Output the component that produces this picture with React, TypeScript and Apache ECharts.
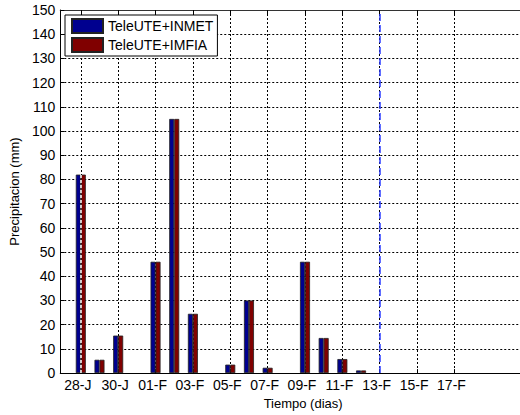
import React, { useEffect, useRef } from "react";
import * as echarts from "echarts";

// Day index 0 = 28 January
const dayIndex = [0, 1, 2, 3, 4, 5, 6, 7, 8, 9, 10, 11, 12, 13, 14, 15];
const inmet = [82, 5.5, 15.5, 0, 46, 105, 24.5, 0, 3.5, 30, 2.2, 0, 46, 14.5, 5.8, 1.1];
const imfia = [82, 5.5, 15.5, 0, 46, 105, 24.5, 0, 3.5, 30, 2.2, 0, 46, 14.5, 5.8, 1.1];
const tickDays = [0, 2, 4, 6, 8, 10, 12, 14, 16, 18, 20];
const tickLabels = ["28-J", "30-J", "01-F", "03-F", "05-F", "07-F", "09-F", "11-F", "13-F", "15-F", "17-F"];
const seriesNames = ["TeleUTE+INMET", "TeleUTE+IMFIA"];
const startMarkerDay = 0;
const cutoffDay = 16;
const xMin = -1.1;
const xMax = 24.9;

const FONT = "'Liberation Sans', Arial, sans-serif";

export default function App() {
  const ref = useRef<HTMLDivElement>(null);
  useEffect(() => {
    if (!ref.current) return;
    const chart = echarts.init(ref.current, undefined, { renderer: "svg" });
    const toData = (vals: number[]) =>
      dayIndex.map((d, i) => [d, vals[i]]).filter((p) => p[1] > 0);
    const gridDash = { color: "#000", width: 1, type: [2, 2] as number[] };
    chart.setOption({
      animation: false,
      textStyle: { fontFamily: FONT },
      grid: { left: 59, top: 10, right: 54, bottom: 34 },
      legend: {
        left: 65,
        top: 15,
        orient: "vertical",
        padding: [3, 4, 3, 6],
        itemWidth: 31,
        itemHeight: 14,
        itemGap: 3,
        borderColor: "#000",
        borderWidth: 1,
        backgroundColor: "#fff",
        icon: "rect",
        textStyle: { fontSize: 14, color: "#000", fontFamily: FONT },
        data: seriesNames,
      },
      xAxis: [
        {
          type: "value",
          min: xMin,
          max: xMax,
          position: "bottom",
          name: "Tiempo (dias)",
          nameLocation: "middle",
          nameGap: 21,
          nameTextStyle: { fontSize: 13, color: "#000", fontFamily: FONT },
          axisLine: { show: true, onZero: false, lineStyle: { color: "#000", width: 1 } },
          axisTick: { show: true, inside: true, length: 4, customValues: tickDays, lineStyle: { color: "#000" } },
          axisLabel: {
            customValues: tickDays,
            fontSize: 14,
            color: "#000",
            margin: 5,
            padding: [0, 6, 0, 0],
            fontFamily: FONT,
            formatter: (v: number) => {
              const k = tickDays.indexOf(Math.round(v));
              return k >= 0 ? tickLabels[k] : "";
            },
          },
          splitLine: { show: true, lineStyle: gridDash },
        },
        {
          type: "value",
          min: xMin,
          max: xMax,
          position: "top",
          axisLine: { show: true, onZero: false, lineStyle: { color: "#333", width: 1 } },
          axisTick: { show: true, inside: true, length: 4, customValues: tickDays, lineStyle: { color: "#000" } },
          axisLabel: { show: false },
          splitLine: { show: false },
        },
      ],
      yAxis: {
        type: "value",
        min: 0,
        max: 150,
        interval: 10,
        position: "left",
        name: "Precipitacion (mm)",
        nameLocation: "middle",
        nameGap: 33,
        nameTextStyle: { fontSize: 13, color: "#000", fontFamily: FONT },
        axisLine: { show: true, onZero: false, lineStyle: { color: "#000", width: 1 } },
        axisTick: { show: true, inside: true, length: 4, lineStyle: { color: "#000" } },
        axisLabel: { fontSize: 14, color: "#000", margin: 5, fontFamily: FONT },
        splitLine: { show: true, lineStyle: gridDash },
      },
      series: [
        {
          name: seriesNames[0],
          type: "bar",
          xAxisIndex: 0,
          data: toData(inmet),
          barWidth: 5,
          barGap: "0%",
          itemStyle: { color: "#00008f", borderColor: "#222", borderWidth: 0.8 },
        },
        {
          name: seriesNames[1],
          type: "bar",
          xAxisIndex: 0,
          data: toData(imfia),
          barWidth: 5,
          barGap: "0%",
          itemStyle: { color: "#800000", borderColor: "#222", borderWidth: 0.8 },
        },
        {
          name: "markers",
          type: "line",
          xAxisIndex: 0,
          data: [],
          z: 3,
          markLine: {
            silent: true,
            symbol: "none",
            label: { show: false },
            emphasis: { disabled: true },
            data: [
              [
                { coord: [startMarkerDay, 0], lineStyle: { color: "#fff", width: 1.5, type: [3, 2] } },
                { coord: [startMarkerDay, inmet[startMarkerDay]] },
              ],
              { xAxis: cutoffDay, lineStyle: { color: "#2b3cff", width: 1.5, type: [7, 4] } },
            ],
          },
        },
      ],
    });
    return () => chart.dispose();
  }, []);
  return (
    <div
      style={{ position: "absolute", left: 0, top: 0, width: 520, height: 415, overflow: "hidden", background: "#fff" }}
    >
      <div ref={ref} style={{ width: 600, height: 415 }} />
    </div>
  );
}
